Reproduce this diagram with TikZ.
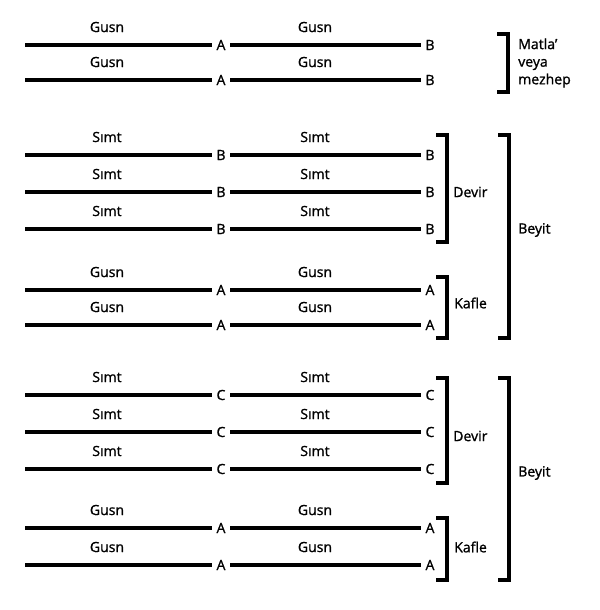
\documentclass[tikz,border=0pt]{standalone}
\usepackage{fontspec}
\setmainfont{Open Sans}[FakeBold=1.2]
\usetikzlibrary{positioning}

\begin{document}
\begin{tikzpicture}[x=0.03cm,y=-0.03cm,
    verse/.style={line width=3.6pt},
    rhyme/.style={font=\fontsize{12}{14}\selectfont, inner xsep=4pt, inner ysep=0pt},
    word/.style={font=\fontsize{12}{14}\selectfont},
    bracket/.style={line width=3.6pt, line join=miter},
    part/.style={font=\fontsize{12}{15}\selectfont, anchor=west, align=left, inner sep=0pt}]

  \useasboundingbox (0,0) rectangle (600,610);

  % verses: y / word / rhyme in the middle / rhyme at the end
  \foreach \y/\txt/\rm/\rr [count=\i] in {45/Gusn/A/B, 80/Gusn/A/B,
      155/Sımt/B/B, 192/Sımt/B/B, 229/Sımt/B/B, 290/Gusn/A/A, 325/Gusn/A/A,
      395/Sımt/C/C, 432/Sımt/C/C, 469/Sımt/C/C, 528/Gusn/A/A, 565/Gusn/A/A} {
    \coordinate (s\i) at (25,\y);
    \node[rhyme] (m\i) at (221,\y) {\rm};
    \node[rhyme] (e\i) at (430,\y) {\rr};
    \draw[verse] (s\i) -- (m\i);
    \draw[verse] (m\i) -- (e\i);
    \node[word] (wl\i) at (107,\y-18) {\txt};
    \node[word] (wr\i) at (315,\y-18) {\txt};
  }

  % matla
  \draw[bracket] (497,34) -| (508,92) -- (497,92);
  \node[part] (matla) at (518,63) {Matla’\\veya\\mezhep};

  % first beyit
  \draw[bracket] (436,135) -| (447,242) -- (436,242);
  \node[part] (devir1) at (453,192) {Devir};
  \draw[bracket] (436,277) -| (447,338) -- (436,338);
  \node[part] (kafle1) at (454,303) {Kafle};
  \draw[bracket] (498,135) -| (509,338) -- (498,338);
  \node[part] (beyit1) at (518,230) {Beyit};

  % second beyit
  \draw[bracket] (436,378) -| (447,483) -- (436,483);
  \node[part] (devir2) at (453,436) {Devir};
  \draw[bracket] (436,518) -| (447,580) -- (436,580);
  \node[part] (kafle2) at (454,547) {Kafle};
  \draw[bracket] (498,378) -| (509,580) -- (498,580);
  \node[part] (beyit2) at (518,473) {Beyit};
\end{tikzpicture}
\end{document}
